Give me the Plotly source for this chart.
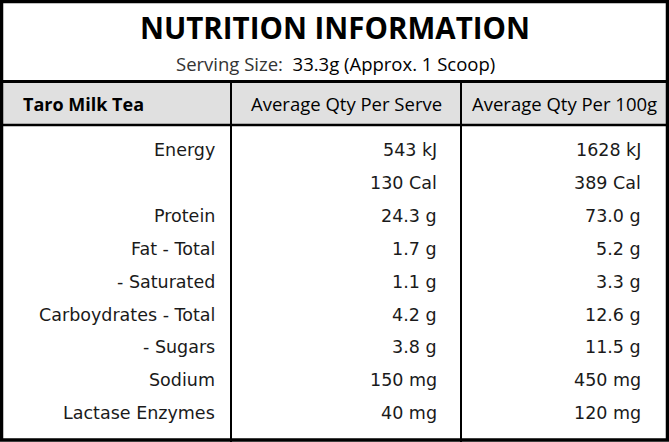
import plotly.graph_objects as go

title = "NUTRITION INFORMATION"
serving_label = "Serving Size:"
serving_value = "33.3g (Approx. 1 Scoop)"
product = "Taro Milk Tea"
col_headers = ["Average Qty Per Serve", "Average Qty Per 100g"]
nutrients = ["Energy", "", "Protein", "Fat - Total", "- Saturated",
             "Carboydrates - Total", "- Sugars", "Sodium", "Lactase Enzymes"]
per_serve = ["543 kJ", "130 Cal", "24.3 g", "1.7 g", "1.1 g", "4.2 g", "3.8 g", "150 mg", "40 mg"]
per_100g = ["1628 kJ", "389 Cal", "73.0 g", "5.2 g", "3.3 g", "12.6 g", "11.5 g", "450 mg", "120 mg"]

W, H = 669, 442
BODY_FONT = "DejaVu Sans"
HEAD_FONT = "Open Sans"
TXT = "#1a1a1a"

fig = go.Figure()

shapes = []
# header fill
shapes.append(dict(type="rect", x0=0, x1=W, y0=82, y1=124.5, fillcolor="#e0e0e0", line_width=0, layer="below"))
# horizontal lines
shapes.append(dict(type="line", x0=0, x1=W, y0=81.5, y1=81.5, line=dict(color="black", width=3)))
shapes.append(dict(type="line", x0=0, x1=W, y0=125, y1=125, line=dict(color="black", width=2.5)))
# column dividers
for xc in [231, 461]:
    shapes.append(dict(type="line", x0=xc, x1=xc, y0=81, y1=H, line=dict(color="black", width=2)))
# outer border
shapes.append(dict(type="rect", x0=1.5, x1=W - 1.5, y0=1.5, y1=H - 2, line=dict(color="black", width=3.5)))

ann = []
ann.append(dict(x=W / 2, y=27, text="<b>" + title + "</b>", showarrow=False, xanchor="center", yanchor="middle",
                font=dict(family=HEAD_FONT, size=29.5, color="black")))
ann.append(dict(x=W / 2 + 0.5, y=63.5,
                text='<span style="color:#333">' + serving_label + '</span>  ' + serving_value,
                showarrow=False, xanchor="center", yanchor="middle",
                font=dict(family=HEAD_FONT, size=18.5, color="black")))
ann.append(dict(x=21, y=104, text="<b>" + product + "</b>", showarrow=False, xanchor="left", yanchor="middle",
                font=dict(family=HEAD_FONT, size=18, color="black")))
for xc, h in zip([346, 564], col_headers):
    ann.append(dict(x=xc, y=103, text=h, showarrow=False, xanchor="center", yanchor="middle",
                    font=dict(family=HEAD_FONT, size=18.5, color="black")))

y0, step = 150, 32.9
for i, (n, a, b) in enumerate(zip(nutrients, per_serve, per_100g)):
    yy = y0 + i * step
    if n:
        ann.append(dict(x=217, y=yy, text=n, showarrow=False, xanchor="right", yanchor="middle",
                        font=dict(family=BODY_FONT, size=17.5, color=TXT)))
    ann.append(dict(x=439, y=yy, text=a, showarrow=False, xanchor="right", yanchor="middle",
                    font=dict(family=BODY_FONT, size=17.5, color=TXT)))
    ann.append(dict(x=643, y=yy, text=b, showarrow=False, xanchor="right", yanchor="middle",
                    font=dict(family=BODY_FONT, size=17.5, color=TXT)))

fig.update_layout(
    width=W, height=H, margin=dict(l=0, r=0, t=0, b=0),
    paper_bgcolor="white", plot_bgcolor="white",
    xaxis=dict(range=[0, W], visible=False, fixedrange=True),
    yaxis=dict(range=[H, 0], visible=False, fixedrange=True),
    shapes=shapes, annotations=ann, showlegend=False,
)
fig.write_html("out.html", config={"displayModeBar": False},
               post_script="document.body.style.margin='0';document.body.style.overflow='hidden';")
